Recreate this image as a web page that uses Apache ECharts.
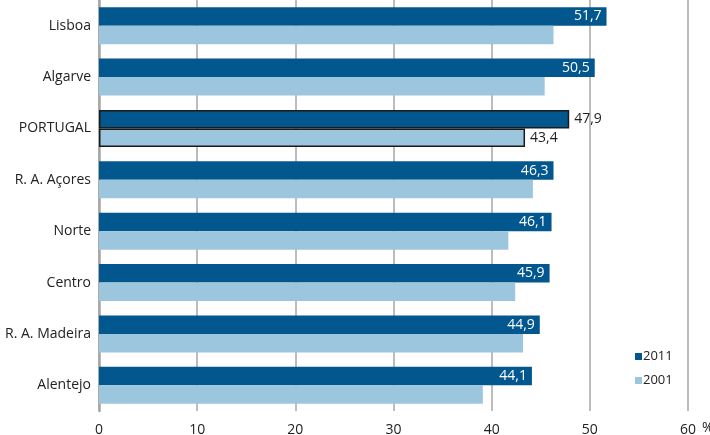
<!DOCTYPE html>
<html>
<head>
<meta charset="utf-8">
<script src="https://cdn.jsdelivr.net/npm/echarts@6/dist/echarts.min.js"></script>
<style>html,body{margin:0;padding:0;background:#fff}#c{width:710px;height:435px}</style>
</head>
<body>
<div id="c"></div>
<script>
var categories = ['Lisboa', 'Algarve', 'PORTUGAL', 'R. A. Açores', 'Norte', 'Centro', 'R. A. Madeira', 'Alentejo'];
var values2011 = [51.7, 50.5, 47.9, 46.3, 46.1, 45.9, 44.9, 44.1];
var values2001 = [46.3, 45.4, 43.4, 44.2, 41.7, 42.4, 43.2, 39.1];
var seriesNames = ['2011', '2001'];
var xTicks = [0, 10, 20, 30, 40, 50, 60];
var highlight = 'PORTUGAL';

var FONT = 'Open Sans';
var DARK = '#02578f';
var LIGHT = '#9cc6de';

function fmt(v) { return String(v).replace('.', ','); }

function build(values, showAll) {
  return values.map(function (v, i) {
    var isHl = categories[i] === highlight;
    var d = { value: v };
    if (isHl) {
      d.itemStyle = { borderColor: '#1a1a1a', borderWidth: 1.5 };
      d.label = { show: true, position: 'right', color: '#222', distance: 5 };
    } else if (!showAll) {
      d.label = { show: false };
    }
    return d;
  });
}

var chart = echarts.init(document.getElementById('c'));
chart.setOption({
  animation: false,
  textStyle: { fontFamily: FONT },
  grid: { left: 99, right: 22, top: 0, bottom: 24, containLabel: false, outerBoundsMode: 'none' },
  legend: {
    orient: 'vertical',
    left: 630,
    top: 345,
    itemWidth: 7,
    itemHeight: 7,
    itemGap: 11,
    icon: 'rect',
    textStyle: { fontFamily: FONT, fontSize: 13, color: '#222', padding: [0, 0, 0, -4] },
    data: seriesNames
  },
  xAxis: {
    type: 'value',
    min: xTicks[0],
    max: xTicks[xTicks.length - 1],
    interval: 10,
    axisLine: { show: false },
    axisTick: { show: false },
    axisLabel: { fontFamily: FONT, fontSize: 14, color: '#222', margin: 12 },
    splitLine: { show: true, lineStyle: { color: '#a6a6a6', width: 1.5 } },
    name: '%',
    nameLocation: 'end',
    nameGap: 10,
    nameTextStyle: { fontFamily: FONT, fontSize: 14, color: '#222', align: 'left', verticalAlign: 'top', padding: [10, 0, 0, 0] }
  },
  yAxis: {
    type: 'category',
    data: categories,
    inverse: true,
    axisLine: { show: true, lineStyle: { color: '#a6a6a6', width: 2.5 } },
    axisTick: { show: false },
    axisLabel: { fontFamily: FONT, fontSize: 14, color: '#222', margin: 8 },
    splitLine: { show: false }
  },
  series: [
    {
      name: seriesNames[0],
      type: 'bar',
      data: build(values2011, true),
      barGap: '0%',
      barCategoryGap: '28%',
      itemStyle: { color: DARK },
      label: {
        show: true,
        position: 'insideRight',
        distance: 5,
        color: '#fff',
        fontFamily: FONT,
        fontSize: 14,
        formatter: function (p) { return fmt(p.value); }
      }
    },
    {
      name: seriesNames[1],
      type: 'bar',
      data: build(values2001, false),
      barGap: '0%',
      barCategoryGap: '28%',
      itemStyle: { color: LIGHT },
      label: {
        show: false,
        fontFamily: FONT,
        fontSize: 14,
        formatter: function (p) { return fmt(p.value); }
      }
    }
  ]
});
</script>
</body>
</html>
